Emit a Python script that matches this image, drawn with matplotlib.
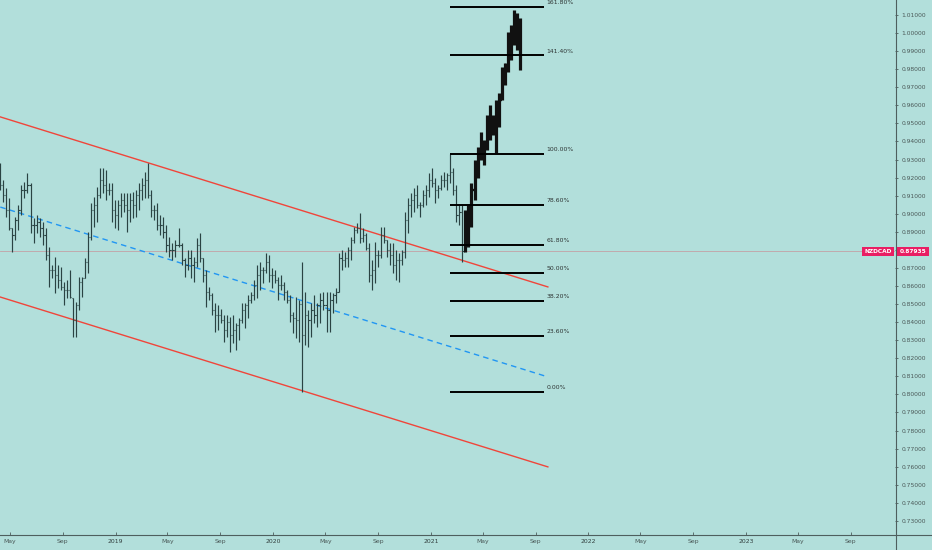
import numpy as np
import pandas as pd
import matplotlib
matplotlib.use("Agg")
import matplotlib.pyplot as plt
import matplotlib.dates as mdates
from matplotlib.lines import Line2D
from matplotlib.patches import Rectangle

# ---------------- data ----------------
symbol = "NZDCAD"
last_price = 0.87935
start_date = "2018-04-09"       # first weekly bar
first_open = 0.9230

high = [0.9281, 0.9187, 0.9143, 0.9087, 0.8921, 0.8982, 0.9049, 0.9159, 0.9176, 0.9226,
        0.9170, 0.8977, 0.8993, 0.8977, 0.8954, 0.8921, 0.8816, 0.8716, 0.8761, 0.8716,
        0.8705, 0.8622, 0.8633, 0.8689, 0.8534, 0.8512, 0.8650, 0.8650, 0.8755, 0.8899,
        0.9060, 0.9093, 0.9148, 0.9253, 0.9253, 0.9242, 0.9170, 0.9170, 0.9076, 0.9076,
        0.9115, 0.9115, 0.9115, 0.9115, 0.9120, 0.9132, 0.9170, 0.9198, 0.9231, 0.9281,
        0.9132, 0.9049, 0.9060, 0.8993, 0.8982, 0.8938, 0.8871, 0.8838, 0.8855, 0.8921,
        0.8838, 0.8755, 0.8800, 0.8800, 0.8761, 0.8866, 0.8894, 0.8755, 0.8689, 0.8595,
        0.8562, 0.8506, 0.8495, 0.8473, 0.8440, 0.8440, 0.8429, 0.8440, 0.8396, 0.8423,
        0.8506, 0.8506, 0.8550, 0.8567, 0.8633, 0.8716, 0.8733, 0.8705, 0.8783, 0.8772,
        0.8700, 0.8689, 0.8650, 0.8661, 0.8622, 0.8578, 0.8550, 0.8456, 0.8539, 0.8523,
        0.8733, 0.8567, 0.8467, 0.8506, 0.8550, 0.8506, 0.8562, 0.8567, 0.8567, 0.8567,
        0.8562, 0.8589, 0.8783, 0.8800, 0.8788, 0.8816, 0.8871, 0.8927, 0.8949, 0.9004,
        0.8921, 0.8894, 0.8838, 0.8744, 0.8844, 0.8800, 0.8927, 0.8927, 0.8855, 0.8838,
        0.8838, 0.8800, 0.8783, 0.8800, 0.9010, 0.9087, 0.9115, 0.9143, 0.9159, 0.9065,
        0.9132, 0.9159, 0.9226, 0.9253, 0.9198, 0.9159, 0.9215, 0.9231, 0.9226, 0.9331,
        0.9253, 0.9159, 0.9049, 0.9049]

low = [0.9132, 0.9065, 0.8982, 0.8910, 0.8788, 0.8855, 0.8910, 0.8993, 0.9087, 0.9115,
       0.8894, 0.8838, 0.8894, 0.8871, 0.8827, 0.8744, 0.8595, 0.8645, 0.8562, 0.8589,
       0.8578, 0.8495, 0.8534, 0.8534, 0.8318, 0.8318, 0.8467, 0.8539, 0.8645, 0.8672,
       0.8855, 0.8927, 0.8954, 0.9087, 0.9115, 0.9076, 0.9104, 0.8954, 0.8921, 0.8910,
       0.8982, 0.9010, 0.8899, 0.8954, 0.8977, 0.8982, 0.9021, 0.9076, 0.9087, 0.9087,
       0.8982, 0.8966, 0.8910, 0.8883, 0.8866, 0.8788, 0.8761, 0.8744, 0.8761, 0.8816,
       0.8716, 0.8650, 0.8689, 0.8645, 0.8622, 0.8705, 0.8733, 0.8622, 0.8484, 0.8523,
       0.8440, 0.8346, 0.8357, 0.8396, 0.8290, 0.8318, 0.8235, 0.8285, 0.8246, 0.8301,
       0.8396, 0.8368, 0.8423, 0.8506, 0.8523, 0.8534, 0.8578, 0.8617, 0.8672, 0.8622,
       0.8589, 0.8617, 0.8523, 0.8578, 0.8523, 0.8506, 0.8401, 0.8340, 0.8312, 0.8290,
       0.8014, 0.8274, 0.8263, 0.8318, 0.8396, 0.8373, 0.8396, 0.8467, 0.8346, 0.8346,
       0.8451, 0.8506, 0.8567, 0.8689, 0.8705, 0.8705, 0.8744, 0.8838, 0.8894, 0.8838,
       0.8844, 0.8800, 0.8622, 0.8578, 0.8617, 0.8705, 0.8755, 0.8838, 0.8761, 0.8716,
       0.8672, 0.8633, 0.8622, 0.8716, 0.8755, 0.8894, 0.8982, 0.9010, 0.9032, 0.8982,
       0.9037, 0.9049, 0.9093, 0.9148, 0.9060, 0.9087, 0.9132, 0.9148, 0.9132, 0.9170,
       0.9104, 0.8954, 0.8938, 0.8733]

close = [0.9159, 0.9104, 0.9021, 0.8921, 0.8883, 0.8966, 0.9021, 0.9132, 0.9132, 0.9159,
         0.8938, 0.8938, 0.8954, 0.8921, 0.8883, 0.8772, 0.8689, 0.8689, 0.8661, 0.8633,
         0.8595, 0.8578, 0.8578, 0.8539, 0.8412, 0.8495, 0.8622, 0.8645, 0.8733, 0.8871,
         0.9021, 0.9049, 0.9104, 0.9187, 0.9159, 0.9132, 0.9132, 0.9021, 0.8993, 0.9049,
         0.9076, 0.9049, 0.9021, 0.9076, 0.9049, 0.9104, 0.9132, 0.9159, 0.9187, 0.9104,
         0.9021, 0.9021, 0.8938, 0.8938, 0.8899, 0.8827, 0.8800, 0.8800, 0.8827, 0.8827,
         0.8744, 0.8716, 0.8755, 0.8716, 0.8733, 0.8827, 0.8755, 0.8661, 0.8567, 0.8550,
         0.8467, 0.8440, 0.8440, 0.8412, 0.8357, 0.8401, 0.8329, 0.8357, 0.8385, 0.8412,
         0.8467, 0.8495, 0.8523, 0.8550, 0.8606, 0.8661, 0.8689, 0.8689, 0.8733, 0.8661,
         0.8661, 0.8633, 0.8606, 0.8606, 0.8567, 0.8523, 0.8440, 0.8423, 0.8412, 0.8500,
         0.8329, 0.8440, 0.8412, 0.8467, 0.8440, 0.8495, 0.8523, 0.8495, 0.8467, 0.8523,
         0.8550, 0.8567, 0.8755, 0.8744, 0.8755, 0.8800, 0.8855, 0.8910, 0.8921, 0.8866,
         0.8883, 0.8811, 0.8661, 0.8689, 0.8772, 0.8772, 0.8883, 0.8855, 0.8800, 0.8772,
         0.8716, 0.8744, 0.8744, 0.8788, 0.8966, 0.9049, 0.9076, 0.9104, 0.9049, 0.9049,
         0.9104, 0.9132, 0.9187, 0.9170, 0.9132, 0.9143, 0.9187, 0.9187, 0.9215, 0.9231,
         0.9132, 0.8993, 0.9010, 0.87935]

# projected bars pattern (thick black bars)
proj_start = "2021-03-22"
proj_high = [0.9021, 0.9049, 0.9170, 0.9298, 0.9370, 0.9453, 0.9408, 0.9547, 0.9602, 0.9547,
             0.9630, 0.9668, 0.9812, 0.9834, 1.0006, 1.0045, 1.0128, 1.0111, 1.0083]
proj_low = [0.8788, 0.8816, 0.8927, 0.9076, 0.9198, 0.9298, 0.9270, 0.9353, 0.9408, 0.9436,
            0.9336, 0.9480, 0.9630, 0.9713, 0.9785, 0.9851, 0.9934, 0.9906, 0.9796]
proj_close = [0.8993, 0.9021, 0.9132, 0.9242, 0.9353, 0.9325, 0.9381, 0.9491, 0.9464, 0.9519,
              0.9574, 0.9630, 0.9768, 0.9823, 0.9934, 0.9989, 0.9962, 1.0017, 0.9823]

# fibonacci retracement / extension
fib_low = 0.8014
fib_high = 0.9331
fib_ratios = [0.0, 0.236, 0.382, 0.5, 0.618, 0.786, 1.0, 1.414, 1.618]
fib_labels = ["0.00%", "23.60%", "38.20%", "50.00%", "61.80%", "78.60%",
              "100.00%", "141.40%", "161.80%"]
fib_start = "2021-02-15"
fib_end = "2021-09-20"

# channel lines (anchor points)
upper_line = [("2018-04-09", 0.9536), ("2021-09-29", 0.8595)]
lower_line = [("2018-04-09", 0.8539), ("2021-09-29", 0.7599)]
mid_line = [("2018-04-09", 0.9037), ("2021-09-29", 0.8097)]

price_ticks = [0.73, 0.74, 0.75, 0.76, 0.77, 0.78, 0.79, 0.80, 0.81, 0.82,
               0.83, 0.84, 0.85, 0.86, 0.87, 0.88, 0.89, 0.90, 0.91, 0.92,
               0.93, 0.94, 0.95, 0.96, 0.97, 0.98, 0.99, 1.00, 1.01]
time_ticks = ["2018-05-01", "2018-09-01", "2019-01-01", "2019-05-01", "2019-09-01",
              "2020-01-01", "2020-05-01", "2020-09-01", "2021-01-01", "2021-05-01",
              "2021-09-01", "2022-01-01", "2022-05-01", "2022-09-01", "2023-01-01",
              "2023-05-01", "2023-09-01"]
time_labels = ["May", "Sep", "2019", "May", "Sep", "2020", "May", "Sep", "2021",
               "May", "Sep", "2022", "May", "Sep", "2023", "May", "Sep"]

# ---------------- style ----------------
BG = "#b2dfdb"
BAR = "#2a4343"
AXC = "#4e5f5e"
TXT = "#4a5857"
PINK = "#e91e63"
W, H = 932, 550

fig = plt.figure(figsize=(W / 100, H / 100), dpi=100, facecolor=BG)
ax = fig.add_axes([0, 15 / H, 895 / W, 535 / H])
ax.set_facecolor(BG)

d0 = mdates.date2num(pd.Timestamp(start_date))
left = d0 - 0.7
ax.set_xlim(left, left + 2074.2)
ax.set_ylim(0.7222, 1.0183)

# thin bars
dates = pd.date_range(start_date, periods=len(high), freq="7D")
dn = mdates.date2num(dates)
hi = np.array(high)
lo = np.array(low)
cl = np.array(close)
op = np.clip(np.r_[first_open, cl[:-1]], lo, hi)
ax.vlines(dn, lo, hi, colors=BAR, lw=0.85, zorder=3)
ax.hlines(op, dn - 2.6, dn, colors=BAR, lw=0.8, zorder=3)
ax.hlines(cl, dn, dn + 2.6, colors=BAR, lw=0.8, zorder=3)

# thick projected bars
pdates = pd.date_range(proj_start, periods=len(proj_high), freq="7D")
pn = mdates.date2num(pdates)
phi = np.array(proj_high)
plo = np.array(proj_low)
pcl = np.array(proj_close)
pop = np.r_[cl[-1], pcl[:-1]]
ax.vlines(pn, plo, phi, colors="#111111", lw=2.3, zorder=4)
ax.hlines(pop, pn - 2.8, pn, colors="#111111", lw=1.7, zorder=4)
ax.hlines(pcl, pn, pn + 2.8, colors="#111111", lw=1.7, zorder=4)

# channel
def line(anchors, **kw):
    xs = [mdates.date2num(pd.Timestamp(a[0])) for a in anchors]
    ys = [a[1] for a in anchors]
    ax.plot(xs, ys, **kw)

line(upper_line, color="#f0453a", lw=1.0, zorder=2)
line(lower_line, color="#f0453a", lw=1.0, zorder=2)
line(mid_line, color="#2196f3", lw=1.0, dashes=(4, 3), zorder=2)

# last price line
ax.axhline(last_price, color="#c3a1a6", lw=0.6, zorder=1)

# fib
fs = mdates.date2num(pd.Timestamp(fib_start))
fe = mdates.date2num(pd.Timestamp(fib_end))
rng = fib_high - fib_low
for r, lab in zip(fib_ratios, fib_labels):
    lvl = fib_low + r * rng
    ax.hlines(lvl, fs, fe, colors="black", lw=1.4, zorder=5)
    ax.annotate(lab, (fe, lvl), xytext=(1.8, 2.9), textcoords="offset points",
                fontsize=4.4, color="#2d3433", va="center", ha="left",
                annotation_clip=False, zorder=6)

# axes styling
for s in ["top", "left", "right", "bottom"]:
    ax.spines[s].set_visible(False)
ax.yaxis.tick_right()
ax.set_yticks(price_ticks)
ax.set_yticklabels([f"{v:.5f}" for v in price_ticks])
ax.tick_params(axis="y", direction="out", length=2.5, width=0.6, colors=AXC,
               labelcolor=TXT, labelsize=4.3, pad=2.0)
ax.set_xticks([mdates.date2num(pd.Timestamp(t)) for t in time_ticks])
ax.set_xticklabels(time_labels)
ax.tick_params(axis="x", direction="in", length=2, width=0.6, colors=AXC,
               labelcolor=TXT, labelsize=4.4, pad=3.0)
for t in ax.get_xticklabels():
    if t.get_text().isdigit():
        t.set_color("#33403f")

# frame lines
fig.add_artist(Line2D([895.5 / W, 895.5 / W], [0, 1], color=AXC, lw=0.8))
fig.add_artist(Line2D([0, 1], [15 / H, 15 / H], color=AXC, lw=0.8))

# price labels
yb = 1 - 256 / H
bh = 9 / H
fig.add_artist(Rectangle((862 / W, yb), 32 / W, bh, transform=fig.transFigure,
                         facecolor=PINK, edgecolor="none", zorder=10))
fig.add_artist(Rectangle((897 / W, yb), 32 / W, bh, transform=fig.transFigure,
                         facecolor=PINK, edgecolor="none", zorder=10))
fig.text(878 / W, yb + bh / 2, symbol, color="white", fontsize=4.2, weight="bold",
         ha="center", va="center", zorder=11)
fig.text(913 / W, yb + bh / 2, f"{last_price:.5f}", color="white", fontsize=4.2,
         weight="bold", ha="center", va="center", zorder=11)

fig.savefig("out.png", dpi=100, facecolor=BG)
